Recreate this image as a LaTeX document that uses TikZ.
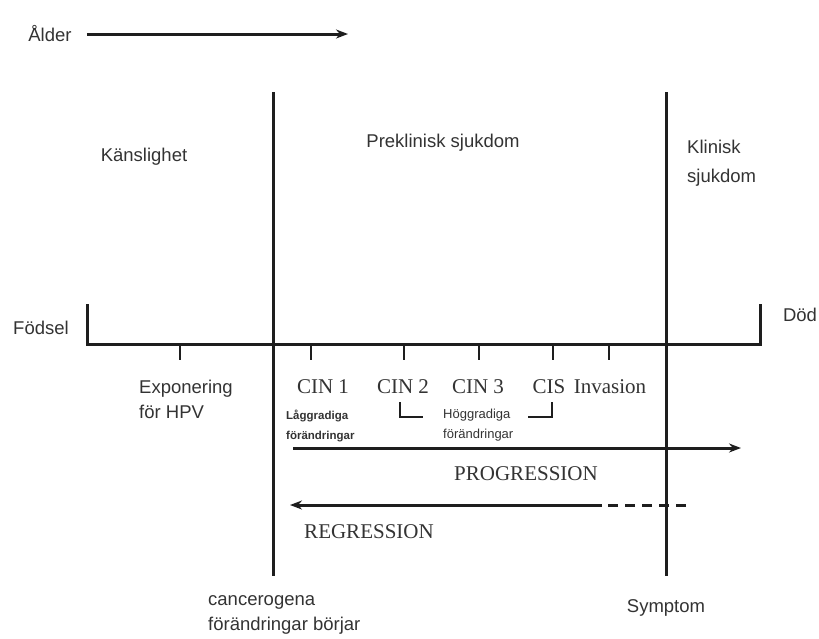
\documentclass[tikz,border=0pt]{standalone}
\usepackage{fontspec}
\usetikzlibrary{arrows.meta}
\setmainfont{Liberation Sans}
\newfontfamily\timesfont{Liberation Serif}
\definecolor{inkgray}{HTML}{333333}
\definecolor{linegray}{HTML}{1E1E1E}
\begin{document}
\begin{tikzpicture}[x=1pt, y=-1pt, >={Stealth[length=12pt, width=9pt]}, every node/.style={inner sep=0pt, text=inkgray},
                    sanslabel/.style={font=\fontsize{18.5}{25}\selectfont, align=left},
                    cinlabel/.style={font=\timesfont\fontsize{21}{24}\selectfont},
                    gradelabel/.style={font=\fontsize{13}{20}\selectfont, align=left},
                    mainline/.style={draw=linegray, line width=3pt},
                    tickline/.style={draw=linegray, line width=1.6pt}]
                        \useasboundingbox (0,0) rectangle (819,638);

                        \node[sanslabel] (alder) at (50,34) {Ålder};
                        \coordinate (alderEnd) at (348,34);
                        \draw[mainline, ->, shorten <=15pt] (alder.east) -- (alderEnd);

                        \node[sanslabel] (kanslighet) at (144,157) {Känslighet};
                        \node[sanslabel] (preklinisk) at (443,143) {Preklinisk sjukdom};
                        \node[sanslabel, anchor=west, font=\fontsize{18.5}{29}\selectfont] (klinisk) at (687,163) {Klinisk\\sjukdom};

                        \node[sanslabel] (fodsel) at (41,328) {Födsel};
                        \node[sanslabel] (dod) at (800,315) {Död};

                        \coordinate (fodselTop) at (87,304);
                        \coordinate (fodselEnd) at (87,344);
                        \coordinate (dodEnd) at (760,344);
                        \coordinate (dodTop) at (760,304);
                        \draw[mainline] (fodselTop) -- (fodselEnd) -- (dodEnd) -- (dodTop);

                        \coordinate (startTop) at (273,92);
                        \coordinate (startBottom) at (273,576);
                        \coordinate (symptomTop) at (666,92);
                        \coordinate (symptomBottom) at (666,576);
                        \draw[mainline] (startTop) -- (startBottom);
                        \draw[mainline] (symptomTop) -- (symptomBottom);

                        \coordinate (expoTick) at (180,344);
                        \coordinate (cinoneTick) at (311,344);
                        \coordinate (cintwoTick) at (404,344);
                        \coordinate (cinthreeTick) at (479,344);
                        \coordinate (cisTick) at (553,344);
                        \coordinate (invTick) at (609,344);
                        \draw[tickline] (expoTick) -- ++(0,16);
                        \draw[tickline] (cinoneTick) -- ++(0,16);
                        \draw[tickline] (cintwoTick) -- ++(0,16);
                        \draw[tickline] (cinthreeTick) -- ++(0,16);
                        \draw[tickline] (cisTick) -- ++(0,16);
                        \draw[tickline] (invTick) -- ++(0,16);

                        \node[sanslabel, anchor=west] (expo) at (139,399) {Exponering\\för HPV};
                        \node[cinlabel] (cinone) at (323,387) {CIN 1};
                        \node[cinlabel] (cintwo) at (403,387) {CIN 2};
                        \node[cinlabel] (cinthree) at (478,387) {CIN 3};
                        \node[cinlabel] (cis) at (549,387) {CIS};
                        \node[cinlabel] (inv) at (610,387) {Invasion};

                        \node[gradelabel, anchor=west, font=\bfseries\fontsize{11.5}{20}\selectfont] (laggradiga) at (286,426) {Låggradiga\\förändringar};
                        \node[gradelabel, anchor=west] (hoggradiga) at (443,425) {Höggradiga\\förändringar};

                        \coordinate (hogStartTop) at (400,402);
                        \coordinate (hogStartFoot) at (400,417);
                        \coordinate (hogStartEnd) at (423,417);
                        \coordinate (hogEndTop) at (552,402);
                        \coordinate (hogEndFoot) at (552,417);
                        \coordinate (hogEndEnd) at (528,417);
                        \draw[tickline] (hogStartTop) -- (hogStartFoot) -- (hogStartEnd);
                        \draw[tickline] (hogEndTop) -- (hogEndFoot) -- (hogEndEnd);

                        \coordinate (progStart) at (293,448);
                        \coordinate (progEnd) at (741,448);
                        \draw[mainline, ->] (progStart) -- (progEnd);
                        \node[cinlabel] (progression) at (526,474) {PROGRESSION};

                        \coordinate (regStart) at (686,505);
                        \coordinate (regMid) at (602,505);
                        \coordinate (regEnd) at (290,505);
                        \draw[mainline, dash pattern=on 10pt off 7pt] (regStart) -- (regMid);
                        \draw[mainline, ->] (regMid) -- (regEnd);
                        \node[cinlabel] (regression) at (369,532) {REGRESSION};

                        \node[sanslabel, anchor=west] (cancerogena) at (208,615) {cancerogena\\förändringar börjar};
                        \node[sanslabel] (symptom) at (666,608) {Symptom};
                    \end{tikzpicture}
\end{document}
